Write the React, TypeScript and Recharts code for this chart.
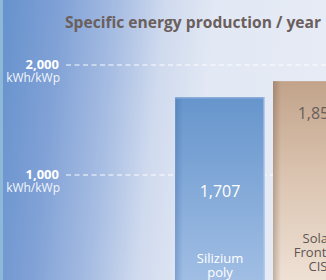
import React from "react";
import { BarChart, Bar, XAxis, YAxis, CartesianGrid, LabelList } from "recharts";

const categories = ["Silizium poly", "Solar Frontier CIS"];
const nameLines = [["Silizium", "poly"], ["Solar", "Frontier", "CIS"]];
const values = [1707, 1853];
const valueLabels = ["1,707", "1,853"];
const yTicks = [1000, 2000];
const yTickLabels = ["1,000", "2,000"];
const unitLabel = "kWh/kWp";
const title = "Specific energy production / year";

const data = categories.map((c, i) => ({ name: c, value: values[i], idx: i }));

const FONT = "'Open Sans', 'Noto Sans', sans-serif";

const BAR_STYLE = [
  { fill: "url(#g0)", edge: "url(#e0)", text: "#ffffff", valueFrom: "bottom", valueOffset: 94, nameBottom: 8 },
  { fill: "url(#g1)", edge: "url(#e1)", text: "#5f5451", valueFrom: "top", valueOffset: 32, nameBottom: 14 },
];

const BarShape = (props: any) => {
  const { x, y, width, height, index } = props;
  const st = BAR_STYLE[index];
  return (
    <g>
      <rect x={x} y={y} width={width} height={height} fill={st.fill} />
      <rect x={x} y={y} width={8} height={height} fill={st.edge} />
      {index === 0 && (
        <>
          <rect x={x} y={y} width={width} height={1.2} fill="#8fb0dc" />
          <rect x={x + width - 1.5} y={y} width={1.5} height={height} fill="#b3caea" />
        </>
      )}
    </g>
  );
};

const ValueLabel = (props: any) => {
  const { x, y, width, height, index } = props;
  const st = BAR_STYLE[index];
  const cy = st.valueFrom === "bottom" ? y + height - st.valueOffset : y + st.valueOffset;
  return (
    <text
      x={x + width / 2}
      y={cy + 6}
      textAnchor="middle"
      fill={index === 0 ? "#ffffff" : "#6b5f5b"}
      fontFamily={FONT}
      fontSize={16}
    >
      {valueLabels[index]}
    </text>
  );
};

const NameLabel = (props: any) => {
  const { x, y, width, height, index } = props;
  const st = BAR_STYLE[index];
  const lines = nameLines[index];
  const lastBase = y + height - st.nameBottom;
  return (
    <text textAnchor="middle" fill={st.text} fontFamily={FONT} fontSize={13}>
      {lines.map((l, i) => (
        <tspan key={i} x={x + width / 2} y={lastBase - (lines.length - 1 - i) * 14}>
          {l}
        </tspan>
      ))}
    </text>
  );
};

const YTick = (props: any) => {
  const { x, y, payload } = props;
  const i = yTicks.indexOf(payload.value);
  return (
    <g>
      <text x={x} y={y + 4} textAnchor="end" fill="#ffffff" fontFamily={FONT} fontSize={13} fontWeight="bold">
        {yTickLabels[i]}
      </text>
      <text x={x + 1} y={y + 17} textAnchor="end" fill="#f2f6fc" fontFamily={FONT} fontSize={12}>
        {unitLabel}
      </text>
    </g>
  );
};

export default function App() {
  return (
    <div
      style={{
        position: "absolute",
        left: 0,
        top: 0,
        width: 326,
        height: 280,
        overflow: "hidden",
        background:
          "linear-gradient(to right, #8db8d8 0px, #8db8d8 3.5px, transparent 3.5px), linear-gradient(96deg, #6591cc 0px, #80a1d6 60px, #a8bee3 120px, #cfdaee 165px, #e2e8f4 215px, #e6ebf5 326px)",
      }}
    >
      <BarChart
        width={367}
        height={300}
        data={data}
        margin={{ top: 65, right: 0, bottom: 15, left: 0 }}
        barCategoryGap={4}
      >
        <defs>
          <linearGradient id="g0" x1="0" y1="0" x2="0" y2="1">
            <stop offset="0" stopColor="#6695cc" />
            <stop offset="1" stopColor="#a2bfe5" />
          </linearGradient>
          <linearGradient id="g1" x1="0" y1="0" x2="0" y2="1">
            <stop offset="0" stopColor="#c2a38a" />
            <stop offset="0.5" stopColor="#dcc6b3" />
            <stop offset="1" stopColor="#efe2d6" />
          </linearGradient>
          <linearGradient id="e0" x1="0" y1="0" x2="1" y2="0">
            <stop offset="0" stopColor="#8fb2de" stopOpacity={0.9} />
            <stop offset="0.15" stopColor="#3a64a0" stopOpacity={0.28} />
            <stop offset="1" stopColor="#3a64a0" stopOpacity={0} />
          </linearGradient>
          <linearGradient id="e1" x1="0" y1="0" x2="1" y2="0">
            <stop offset="0" stopColor="#6e5442" stopOpacity={0.35} />
            <stop offset="1" stopColor="#6e5442" stopOpacity={0} />
          </linearGradient>
        </defs>
        <CartesianGrid vertical={false} stroke="#ffffff" strokeDasharray="5 3.5" strokeOpacity={0.95} />
        <XAxis dataKey="name" hide padding={{ left: 105, right: 0 }} />
        <YAxis
          width={66}
          domain={[0, 2000]}
          ticks={yTicks}
          axisLine={false}
          tickLine={false}
          tickSize={0}
          tickMargin={7}
          tick={<YTick />}
          allowDataOverflow
        />
        <Bar dataKey="value" isAnimationActive={false} shape={<BarShape />}>
          <LabelList dataKey="value" content={<ValueLabel />} />
          <LabelList dataKey="name" content={<NameLabel />} />
        </Bar>
      </BarChart>
      <svg width={326} height={40} style={{ position: "absolute", left: 0, top: 0 }}>
        <text x={65} y={27.5} fill="#6b5f5d" fontFamily={FONT} fontSize={15.6} fontWeight="bold">
          {title}
        </text>
      </svg>
    </div>
  );
}
